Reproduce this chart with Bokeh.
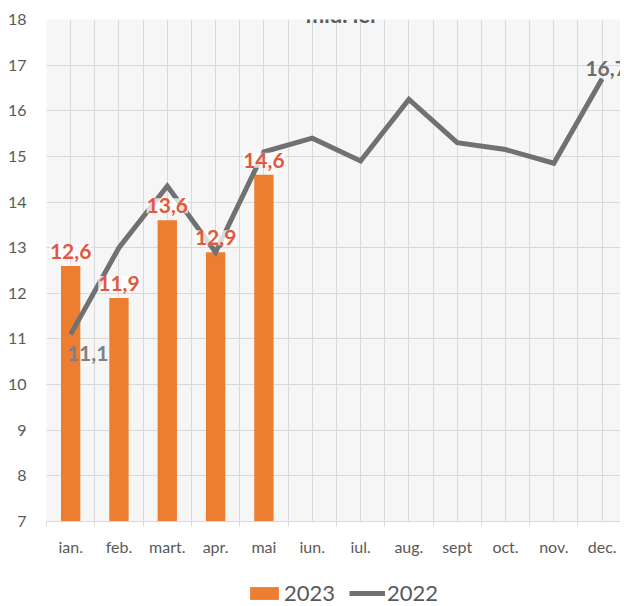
from bokeh.plotting import figure
from bokeh.layouts import column
from bokeh.models import (Range1d, FixedTicker, ColumnDataSource, LabelSet, Label,
                          Legend, LegendItem)
from bokeh.core.properties import value
from bokeh.embed import file_html
from bokeh.resources import INLINE

# ---- data ----
months = ["ian.", "feb.", "mart.", "apr.", "mai", "iun.", "iul.", "aug.",
          "sept", "oct.", "nov.", "dec."]
values_2023 = [12.6, 11.9, 13.6, 12.9, 14.6]
labels_2023 = ["12,6", "11,9", "13,6", "12,9", "14,6"]
values_2022 = [11.1, 13.0, 14.35, 12.9, 15.1, 15.4, 14.9, 16.25, 15.3, 15.15, 14.85, 16.7]
y_ticks = [7, 8, 9, 10, 11, 12, 13, 14, 15, 16, 17, 18]
title_text = "mld. lei"
series_names = ["2023", "2022"]

FONT = "Lato"
ORANGE = "#ED7D31"
LABEL_RED = "#E2583E"
GRAY_LINE = "#717171"
TEXT_GRAY = "#595959"
GRID = "#d9d9d9"

x_centers = [i + 0.5 for i in range(len(months))]

p = figure(width=620, height=576, output_backend="svg", toolbar_location=None,
           x_range=Range1d(0, 11.88), y_range=Range1d(7, 18),
           min_border_left=46, min_border_right=0, min_border_top=19,
           min_border_bottom=55)
p.background_fill_color = "#f6f6f6"
p.border_fill_color = "white"
p.outline_line_color = None

# axes
p.xaxis.ticker = FixedTicker(ticks=x_centers,
                             minor_ticks=[float(i) for i in range(len(months) + 1)])
p.xaxis.major_label_overrides = {c: m for c, m in zip(x_centers, months)}
p.xaxis.major_tick_line_color = None
p.xaxis.major_tick_out = 0
p.xaxis.major_tick_in = 0
p.xaxis.minor_tick_line_color = GRID
p.xaxis.minor_tick_out = 5
p.xaxis.minor_tick_in = 0
p.xaxis.axis_line_color = GRID
p.xaxis.major_label_standoff = 10
p.xaxis.major_label_text_font = FONT
p.xaxis.major_label_text_font_size = "16px"
p.xaxis.major_label_text_color = TEXT_GRAY

p.yaxis.ticker = FixedTicker(ticks=y_ticks)
p.yaxis.axis_line_color = None
p.yaxis.major_tick_line_color = None
p.yaxis.minor_tick_line_color = None
p.yaxis.major_tick_out = 0
p.yaxis.major_tick_in = 0
p.yaxis.major_label_standoff = 20
p.yaxis.major_label_text_font = FONT
p.yaxis.major_label_text_font_size = "16px"
p.yaxis.major_label_text_color = TEXT_GRAY

# grid
p.xgrid.ticker = FixedTicker(ticks=[i * 0.5 for i in range(2 * len(months) + 1)])
p.xgrid.grid_line_color = GRID
p.ygrid.ticker = FixedTicker(ticks=y_ticks)
p.ygrid.grid_line_color = GRID

# bars 2023
bar_src = ColumnDataSource(dict(x=x_centers[:len(values_2023)], top=values_2023,
                                lab=labels_2023))
bars = p.vbar(x="x", top="top", bottom=7, width=0.4, source=bar_src,
              fill_color=ORANGE, line_color=None)

# line 2022
line_src = ColumnDataSource(dict(x=x_centers, y=values_2022))
line = p.line(x="x", y="y", source=line_src, line_color=GRAY_LINE, line_width=5,
              line_join="miter")

# bar labels
p.add_layout(LabelSet(x="x", y="top", text="lab", source=bar_src,
                      text_align="center", text_baseline="alphabetic", y_offset=7,
                      text_font=value(FONT), text_font_style="bold",
                      text_font_size="21px", text_color=LABEL_RED,
                      background_fill_color="white", background_fill_alpha=0.75))

# line labels (first and last)
def fmt(v):
    return f"{v:.1f}".replace(".", ",")

p.add_layout(Label(x=x_centers[0], y=values_2022[0], text=fmt(values_2022[0]),
                   x_offset=17, y_offset=-19, text_align="center",
                   text_baseline="alphabetic", text_font=FONT,
                   text_font_style="bold", text_font_size="21px",
                   text_color="#7f7f7f"))
p.add_layout(Label(x=x_centers[-1], y=values_2022[-1], text=fmt(values_2022[-1]),
                   x_offset=4, y_offset=10, text_align="center",
                   text_baseline="alphabetic", text_font=FONT,
                   text_font_style="bold", text_font_size="21px",
                   text_color="#6d6d6d"))

# partially visible title at the very top
p.add_layout(Label(x=6.09, y=18.11, text=title_text, text_align="center",
                   text_baseline="alphabetic", text_font=FONT,
                   text_font_style="bold", text_font_size="22px",
                   text_color=TEXT_GRAY))

# legend strip below the chart
lg = figure(width=620, height=30, output_backend="svg", toolbar_location=None,
            x_range=Range1d(0, 1), y_range=Range1d(0, 1),
            min_border_left=0, min_border_right=0, min_border_top=0,
            min_border_bottom=0)
lg.axis.visible = False
lg.grid.visible = False
lg.outline_line_color = None
lg.background_fill_color = "white"
lg.border_fill_color = "white"
# renderers kept outside the visible range: only their legend swatches show
lg_bar = lg.vbar(x=[5], top=[5], bottom=[4], width=0.1, fill_color=ORANGE,
                 line_color=None)
lg_line = lg.line(x=[5, 6], y=[5, 5], line_color=GRAY_LINE, line_width=5)

legend = Legend(items=[LegendItem(label=series_names[0], renderers=[lg_bar]),
                       LegendItem(label=series_names[1], renderers=[lg_line])],
                orientation="horizontal", location=(200, 0),
                glyph_width=36, glyph_height=16, label_standoff=2, spacing=14,
                padding=0, margin=0,
                label_text_font=FONT, label_text_font_size="22px",
                label_text_color=TEXT_GRAY, label_text_baseline="middle",
                background_fill_alpha=0, border_line_color=None)
lg.add_layout(legend, "center")

layout = column(p, lg, spacing=0)
open("out.html", "w").write(file_html(layout, INLINE))
